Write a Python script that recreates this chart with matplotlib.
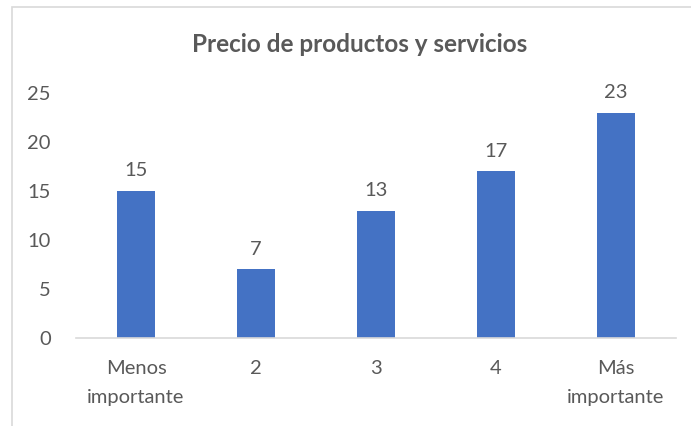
import matplotlib.pyplot as plt
from matplotlib.patches import Rectangle

categorias = ["Menos\nimportante", "2", "3", "4", "Más\nimportante"]
valores = [15, 7, 13, 17, 23]

gris = "#595959"
plt.rcParams['font.family'] = ['Lato', 'DejaVu Sans']

fig = plt.figure(figsize=(6.91, 4.26), dpi=100)
ax = fig.add_axes([76/691, 1-338/426, 600/691, 245/426])

# chart frame
fig.patches.append(Rectangle((12/691, -0.1), 1.2, 1.1 - 7/426, transform=fig.transFigure,
                             fill=False, edgecolor="#D9D9D9", linewidth=1.2))

x = range(len(categorias))
barras = ax.bar(x, valores, width=0.31, color="#4472C4")
for xi, v in zip(x, valores):
    ax.text(xi, v + 1.2, str(v), ha="center", va="bottom", fontsize=14.5, color=gris)

ax.set_xlim(-0.5, 4.5)
ax.set_ylim(0, 25)
ax.set_yticks(range(0, 26, 5))
ax.set_xticks(list(x))
ax.set_xticklabels(categorias, fontsize=14.5, color=gris, linespacing=1.85)
ax.tick_params(axis="y", labelsize=14.5, labelcolor=gris, length=0, pad=18)
ax.tick_params(axis="x", length=0, pad=16)
for s in ["top", "right", "left"]:
    ax.spines[s].set_visible(False)
ax.spines["bottom"].set_color("#D9D9D9")
ax.spines["bottom"].set_linewidth(1.2)

fig.text(360/691, 1-45/426, "Precio de productos y servicios", ha="center", va="center",
         fontsize=17.5, fontweight="bold", color=gris)

fig.savefig("out.png", dpi=100)
